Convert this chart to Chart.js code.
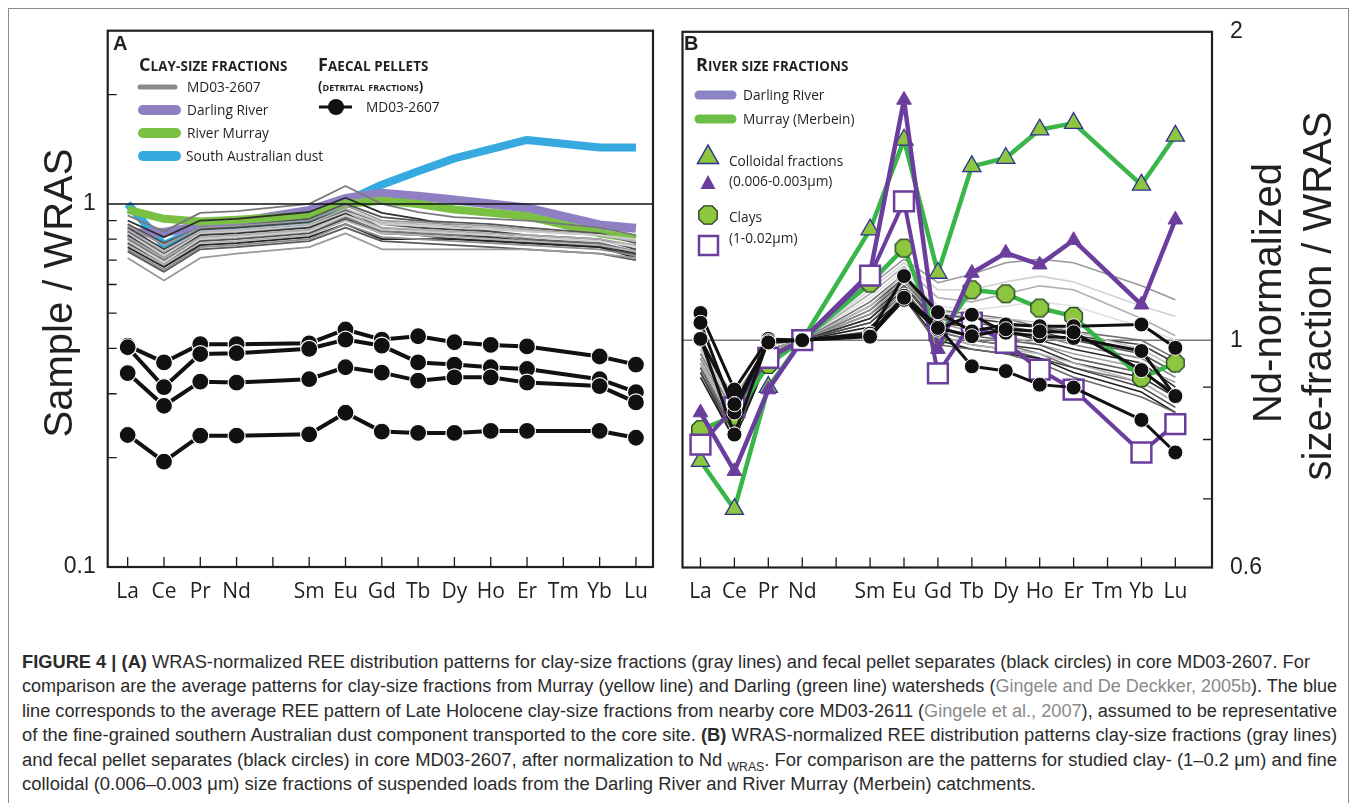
<!DOCTYPE html>
<html><head><meta charset="utf-8">
<script src="https://cdn.jsdelivr.net/npm/chart.js@4.4.1/dist/chart.umd.min.js"></script>
<style>
html,body{margin:0;padding:0;background:#fff;}
#wrap{position:relative;width:1358px;height:803px;overflow:hidden;font-family:"Open Sans",sans-serif;color:#231f20;}
canvas{position:absolute;top:0;}
.t{position:absolute;white-space:nowrap;line-height:20px;height:20px;font-size:13.7px;}
.hd{font-weight:700;font-size:13.4px;letter-spacing:0.1px;}
.hd .c{font-size:18px;}
.hd2{font-weight:700;font-variant:small-caps;font-size:13.3px;}
.pl{font-family:"Liberation Sans",Arial,sans-serif;font-weight:700;font-size:20px;}
.rot{position:absolute;transform:translate(-50%,-50%) rotate(-90deg);white-space:nowrap;line-height:1;font-family:"Liberation Sans",Arial,sans-serif;font-size:40px;color:#231f20;}
.cap{position:absolute;left:22px;height:24px;line-height:24px;white-space:nowrap;font-family:"Liberation Sans",Arial,sans-serif;font-size:18px;color:#2b2b2b;}
.cap span.in{display:inline-block;transform-origin:0 50%;}
.ref{color:#8a8a8a;}
#frame{position:absolute;left:8px;top:8px;width:1341px;height:805px;border:1px solid #8c8c8c;box-sizing:border-box;}
svg#lg{position:absolute;left:0;top:0;pointer-events:none;}
</style></head><body>
<div id="wrap">
<div id="frame"></div>
<canvas id="cA" width="666" height="620" style="left:0px"></canvas>
<canvas id="cB" width="692" height="620" style="left:666px"></canvas>

<svg id="lg" width="1358" height="640">
  <line x1="140" y1="87" x2="175" y2="87" stroke="#8a8a8a" stroke-width="5" stroke-linecap="round"/>
  <line x1="143" y1="110" x2="176" y2="110" stroke="#8f80c4" stroke-width="10" stroke-linecap="round"/>
  <line x1="143" y1="133" x2="176" y2="133" stroke="#7ac143" stroke-width="10" stroke-linecap="round"/>
  <line x1="143" y1="156" x2="176" y2="156" stroke="#36a9e1" stroke-width="10" stroke-linecap="round"/>
  <line x1="319" y1="107" x2="352" y2="107" stroke="#111" stroke-width="3"/>
  <circle cx="336" cy="107" r="8" fill="#111"/>
  <line x1="699" y1="95" x2="732" y2="95" stroke="#8b84c4" stroke-width="9" stroke-linecap="round"/>
  <line x1="699" y1="119" x2="732" y2="119" stroke="#6cbf45" stroke-width="9" stroke-linecap="round"/>
  <polygon points="708,145 697.5,163.5 718.5,163.5" fill="#8dc63f" stroke="#2e3192" stroke-width="1.5"/>
  <polygon points="708,175 700.5,189 715.5,189" fill="#6b3e9e"/>
  <polygon points="712,205.8 717.2,211 717.2,219 712,224.2 704,224.2 698.8,219 698.8,211 704,205.8" fill="#8dc63f" stroke="#2a3a1a" stroke-width="1.3"/>
  <rect x="699" y="236" width="19" height="19" fill="#fff" stroke="#6b3e9e" stroke-width="2.5"/>
</svg>

<div class="t pl" style="left:113px;top:33px;">A</div>
<div class="t hd" style="left:139px;top:54px;"><span class="c">C</span>LAY-SIZE FRACTIONS</div>
<div class="t" style="left:187px;top:77px;">MD03-2607</div>
<div class="t" style="left:187px;top:100px;">Darling River</div>
<div class="t" style="left:187px;top:123px;">River Murray</div>
<div class="t" style="left:186px;top:146px;">South Australian dust</div>
<div class="t hd" style="left:318px;top:54px;"><span class="c">F</span>AECAL PELLETS</div>
<div class="t hd2" style="left:318px;top:76px;">(detrital fractions)</div>
<div class="t" style="left:366px;top:97px;">MD03-2607</div>

<div class="t pl" style="left:684px;top:33px;">B</div>
<div class="t hd" style="left:696px;top:54px;"><span class="c">R</span>IVER SIZE FRACTIONS</div>
<div class="t" style="left:743px;top:85px;">Darling River</div>
<div class="t" style="left:743px;top:109px;">Murray (Merbein)</div>
<div class="t" style="left:729px;top:151px;">Colloidal fractions</div>
<div class="t" style="left:729px;top:171px;">(0.006-0.003μm)</div>
<div class="t" style="left:729px;top:207px;">Clays</div>
<div class="t" style="left:729px;top:228px;">(1-0.02μm)</div>

<div class="rot" style="left:58px;top:293px;">Sample / WRAS</div>
<div class="rot" style="left:1267px;top:293px;">Nd-normalized</div>
<div class="rot" style="left:1317px;top:296px;">size-fraction / WRAS</div>

<div class="cap" style="top:650px" data-w="1288"><span class="in"><b>FIGURE 4 | (A)</b> WRAS-normalized REE distribution patterns for clay-size fractions (gray lines) and fecal pellet separates (black circles) in core MD03-2607. For</span></div>
<div class="cap" style="top:674px" data-w="1315"><span class="in">comparison are the average patterns for clay-size fractions from Murray (yellow line) and Darling (green line) watersheds (<span class="ref">Gingele and De Deckker, 2005b</span>). The blue</span></div>
<div class="cap" style="top:699px" data-w="1315"><span class="in">line corresponds to the average REE pattern of Late Holocene clay-size fractions from nearby core MD03-2611 (<span class="ref">Gingele et al., 2007</span>), assumed to be representative</span></div>
<div class="cap" style="top:723px" data-w="1315"><span class="in">of the fine-grained southern Australian dust component transported to the core site. <b>(B)</b> WRAS-normalized REE distribution patterns clay-size fractions (gray lines)</span></div>
<div class="cap" style="top:748px" data-w="1315"><span class="in">and fecal pellet separates (black circles) in core MD03-2607, after normalization to Nd <sub style="font-size:12px">WRAS</sub>. For comparison are the patterns for studied clay- (1–0.2 μm) and fine</span></div>
<div class="cap" style="top:772px" data-w="0"><span class="in">colloidal (0.006–0.003 μm) size fractions of suspended loads from the Darling River and River Murray (Merbein) catchments.</span></div>
</div>

<script>
// ---------- categories ----------
const ELEMENT_LABELS = ['La','Ce','Pr','Nd','','Sm','Eu','Gd','Tb','Dy','Ho','Er','Tm','Yb','Lu'];
const ELEMENTS = ['La','Ce','Pr','Nd','Sm','Eu','Gd','Tb','Dy','Ho','Er','Tm','Yb','Lu'];
const ELEMENT_POS = [0,1,2,3,5,6,7,8,9,10,11,12,13,14];
const A_TICK_LABELS = [0.1, 1];
const A_MINOR_TICKS = [0.2,0.3,0.4,0.5,0.6,0.7,0.8,0.9,2];
const B_TICK_LABELS = [0.6, 1, 2];
const B_MINOR_TICKS = [0.7,0.8,0.9];

// ---------- Panel A (sample / WRAS) ----------
//              La    Ce    Pr    Nd    Sm    Eu    Gd    Tb    Dy    Ho    Er    Tm    Yb    Lu
const dustA    = [1.00, 0.77, 0.86, 0.87, 0.89, 1.015,1.13, 1.23, 1.335,null, 1.50, null, 1.43, 1.43];
const darlingA = [0.83, 0.835,0.87, 0.89, 0.96, 1.035,1.07, 1.05, 1.025,1.00, 0.975,null, 0.875,0.857];
const murrayA  = [0.965,0.91, 0.895,0.905,0.93, 1.00, 1.02, 1.00, 0.965,0.945,0.925,null, 0.83, 0.80];
const clayA = [
  [0.93,0.84,0.945,0.955,1.00,1.12,1.00,0.95,0.92,0.91,0.90,null,0.86,0.82],
  [0.90,0.81,0.90,0.91,0.95,1.04,0.945,0.91,0.87,0.84,0.80,null,0.77,0.72],
  [0.88,0.78,0.86,0.87,0.91,1.00,0.92,0.90,0.89,0.88,0.86,null,0.83,0.78],
  [0.87,0.77,0.86,0.87,0.90,0.99,0.90,0.89,0.88,0.87,0.85,null,0.82,0.79],
  [0.86,0.75,0.85,0.86,0.89,0.97,0.88,0.86,0.85,0.84,0.82,null,0.80,0.75],
  [0.85,0.74,0.84,0.85,0.88,0.97,0.89,0.88,0.87,0.86,0.84,null,0.82,0.79],
  [0.84,0.73,0.83,0.84,0.87,0.96,0.86,0.84,0.83,0.82,0.80,null,0.78,0.74],
  [0.83,0.72,0.83,0.84,0.87,0.95,0.88,0.87,0.86,0.85,0.84,null,0.82,0.80],
  [0.82,0.71,0.82,0.83,0.86,0.94,0.85,0.83,0.82,0.81,0.79,null,0.77,0.73],
  [0.81,0.71,0.81,0.82,0.85,0.93,0.86,0.85,0.84,0.83,0.82,null,0.80,0.77],
  [0.80,0.70,0.80,0.81,0.84,0.92,0.84,0.83,0.82,0.80,0.79,null,0.77,0.74],
  [0.79,0.69,0.80,0.81,0.84,0.93,0.85,0.84,0.83,0.82,0.81,null,0.79,0.76],
  [0.78,0.68,0.79,0.80,0.83,0.91,0.83,0.82,0.80,0.79,0.78,null,0.76,0.72],
  [0.77,0.68,0.78,0.79,0.82,0.90,0.83,0.82,0.81,0.80,0.79,null,0.77,0.74],
  [0.76,0.67,0.77,0.78,0.81,0.88,0.80,0.80,0.80,0.79,0.78,null,0.76,0.71],
  [0.75,0.66,0.76,0.77,0.80,0.88,0.81,0.80,0.79,0.78,0.77,null,0.75,0.72],
  [0.74,0.65,0.75,0.76,0.79,0.86,0.79,0.78,0.77,0.76,0.75,null,0.73,0.70],
  [0.71,0.615,0.71,0.73,0.76,0.83,0.75,0.75,0.75,0.75,0.75,null,0.73,0.71]
];
const clayAColors = ['#7a7a7a','#2f2f2f','#555555','#999999','#444444','#bbbbbb','#666666','#cccccc','#333333','#aaaaaa','#777777','#d0d0d0','#505050','#b5b5b5','#222222','#8c8c8c','#5a5a5a','#9a9a9a'];
const pelletsA = [
  [0.407,0.366,0.411,0.411,0.413,0.451,0.423,0.432,0.416,0.409,0.405,null,0.380,0.361],
  [0.403,0.313,0.386,0.388,0.399,0.423,0.407,0.366,0.361,0.355,0.351,null,0.329,0.303],
  [0.342,0.278,0.324,0.322,0.329,0.355,0.343,0.326,0.333,0.333,0.322,null,0.315,0.284],
  [0.231,0.195,0.230,0.230,0.232,0.266,0.236,0.234,0.234,0.237,0.237,null,0.237,0.227]
];

// ---------- Panel B (Nd-normalized size-fraction / WRAS) ----------
//                      La    Ce    Pr    Nd   Sm    Eu    Gd    Tb    Dy    Ho    Er    Tm    Yb    Lu
const murrayColloidB  = [0.762,0.684,0.90, 1.0, 1.282,1.569,1.163,1.478,1.506,1.605,1.629,null, 1.418,1.583];
const darlingColloidB = [0.85, 0.745,0.895,1.0, 1.163,1.716,0.98, 1.163,1.217,1.185,1.252,null, 1.083,1.311];
const murrayClayB     = [0.818,0.843,0.947,1.0, 1.137,1.23, 1.008,1.12, 1.11, 1.075,1.055,null, 0.919,0.95];
const darlingClayB    = [0.791,0.86, 0.961,1.0, 1.156,1.366,0.928,1.04, 0.994,0.936,0.895,null, 0.777,0.828];
const pelletsB = [
  [1.003,0.809,1.000,1.0,1.013,1.105,1.032,0.943,0.933,0.905,0.899,null,0.836,0.777],
  [1.063,0.895,1.003,1.0,1.015,1.155,1.065,1.020,1.036,1.032,1.032,null,1.036,0.983],
  [1.040,0.850,0.998,1.0,1.010,1.095,1.024,1.059,1.017,1.009,1.005,null,0.976,0.882],
  [1.003,0.866,0.995,1.0,1.008,1.100,1.028,1.009,1.025,1.020,1.018,null,0.935,0.882]
];
const clayB = [
  [0.99,0.88,0.99,1,1.13,1.20,1.138,1.16,1.19,1.20,1.19,null,1.13,1.095],
  [0.98,0.87,0.99,1,1.12,1.19,1.12,1.12,1.14,1.155,1.14,null,1.08,1.055],
  [0.99,0.86,0.98,1,1.11,1.18,1.10,1.09,1.11,1.13,1.12,null,1.05,1.01],
  [0.98,0.87,0.99,1,1.10,1.17,1.08,1.07,1.08,1.09,1.08,null,1.03,1.00],
  [0.97,0.85,0.98,1,1.09,1.16,1.07,1.06,1.05,1.03,1.02,null,1.00,0.96],
  [0.96,0.84,0.98,1,1.08,1.15,1.06,1.05,1.04,1.03,1.01,null,0.99,0.95],
  [0.98,0.86,0.99,1,1.08,1.16,1.07,1.05,1.05,1.04,1.02,null,0.98,0.94],
  [0.95,0.83,0.97,1,1.07,1.14,1.05,1.04,1.03,1.02,1.00,null,0.97,0.93],
  [0.97,0.85,0.98,1,1.07,1.15,1.05,1.03,1.02,1.01,0.99,null,0.96,0.92],
  [0.94,0.82,0.97,1,1.06,1.13,1.04,1.03,1.02,1.00,0.98,null,0.95,0.90],
  [0.96,0.84,0.98,1,1.06,1.14,1.04,1.02,1.01,0.99,0.97,null,0.94,0.91],
  [0.95,0.83,0.97,1,1.05,1.13,1.03,1.01,1.00,0.99,0.96,null,0.93,0.89],
  [0.93,0.81,0.96,1,1.05,1.12,1.02,1.00,0.99,0.98,0.95,null,0.92,0.88],
  [0.94,0.82,0.97,1,1.04,1.12,1.02,1.00,0.99,0.97,0.94,null,0.91,0.87],
  [0.93,0.80,0.96,1,1.04,1.11,1.01,0.99,0.98,0.96,0.94,null,0.90,0.86],
  [0.95,0.83,0.97,1,1.03,1.11,1.01,0.99,0.98,0.97,0.95,null,0.91,0.87],
  [0.92,0.80,0.96,1,1.03,1.10,1.00,0.98,0.97,0.96,0.93,null,0.89,0.85],
  [0.94,0.81,0.97,1,1.02,1.10,0.99,0.98,0.97,0.95,0.92,null,0.88,0.85]
];
const clayBColors = ['#9a9a9a','#d2d2d2','#b0b0b0','#e0e0e0','#707070','#404040','#c0c0c0','#555555','#888888','#2a2a2a','#a0a0a0','#606060','#333333','#7a7a7a','#4a4a4a','#b8b8b8','#1e1e1e','#686868'];

// ---------- helpers ----------
function pts(vals){ return vals.map((v,i)=>({x:ELEMENT_POS[i], y:v})); }
function line(vals, color, width, extra){
  return Object.assign({data:pts(vals), borderColor:color, borderWidth:width, pointRadius:0, tension:0,
    spanGaps:true, fill:false, borderJoinStyle:'round', borderCapStyle:'butt'}, extra||{});
}
function octagon(r, fill, stroke){
  const c=document.createElement('canvas'); const s=Math.ceil(2*r+4); c.width=c.height=s;
  const g=c.getContext('2d'); g.beginPath();
  for(let k=0;k<8;k++){const a=Math.PI/8+k*Math.PI/4; const px=s/2+r*Math.cos(a), py=s/2+r*Math.sin(a); if(k) g.lineTo(px,py); else g.moveTo(px,py);}
  g.closePath(); g.fillStyle=fill; g.fill(); g.lineWidth=1.3; g.strokeStyle=stroke; g.stroke(); return c;
}

const framePlugin = {
  id:'frame',
  beforeDatasetsDraw(chart, args, o){ if(o.refBelow) drawRef(chart,o); },
  afterDatasetsDraw(chart, args, o){
    if(!o.refBelow) drawRef(chart,o);
    const {ctx, chartArea:ca} = chart; const x=chart.scales.x, y=chart.scales.y;
    ctx.save(); ctx.strokeStyle='#1a1a1a'; ctx.lineWidth=1.3; ctx.beginPath();
    ELEMENT_LABELS.forEach((_,i)=>{ const px=x.getPixelForValue(i); ctx.moveTo(px,ca.bottom); ctx.lineTo(px,ca.bottom-o.xTick); });
    o.minor.forEach(v=>{ const py=y.getPixelForValue(v);
      if(o.side==='left'){ ctx.moveTo(ca.left,py); ctx.lineTo(ca.left+o.yTick,py); }
      else { ctx.moveTo(ca.right,py); ctx.lineTo(ca.right-o.yTick,py); } });
    ctx.stroke();
    ctx.lineWidth=2.2; ctx.strokeStyle='#231f20';
    ctx.strokeRect(ca.left, ca.top, ca.right-ca.left, ca.bottom-ca.top);
    ctx.restore();
  }
};
function drawRef(chart,o){
  const {ctx, chartArea:ca} = chart; const py = chart.scales.y.getPixelForValue(1);
  ctx.save(); ctx.strokeStyle=o.refColor; ctx.lineWidth=o.refWidth; ctx.beginPath();
  ctx.moveTo(ca.left,py); ctx.lineTo(ca.right,py); ctx.stroke(); ctx.restore();
}

function xScale(min,max,h){
  return {type:'linear', min:min, max:max,
    afterBuildTicks:s=>{ s.ticks = ELEMENT_LABELS.map((_,i)=>({value:i})); },
    afterFit:s=>{ s.height=h; },
    grid:{display:false, drawTicks:false}, border:{display:false},
    ticks:{autoSkip:false, maxRotation:0, minRotation:0, padding:12, color:'#231f20',
      font:{family:'Open Sans', size:21}, callback:(v,i)=>ELEMENT_LABELS[i]}};
}
function yScale(min,max,labels,pos,w,pad){
  return {type:'logarithmic', position:pos, min:min, max:max,
    afterBuildTicks:s=>{ s.ticks = labels.map(v=>({value:v})); },
    afterFit:s=>{ s.width=w; },
    grid:{display:false, drawTicks:false}, border:{display:false},
    ticks:{padding:pad, color:'#231f20', font:{family:'Liberation Sans', size:23}, callback:v=>String(v)}};
}

// ---------- Chart A ----------
const dsA = [];
dsA.push(line(dustA,'#36a9e1',8));
dsA.push(line(darlingA,'#8f80c4',9));
dsA.push(line(murrayA,'#7ac143',8));
clayA.forEach((arr,i)=>dsA.push(line(arr, clayAColors[i], 1.8)));
pelletsA.forEach(arr=>dsA.push(line(arr,'#111111',4,{pointRadius:8.5, pointBackgroundColor:'#111111', pointBorderColor:'#ffffff', pointBorderWidth:1.2})));
dsA.reverse();

new Chart(document.getElementById('cA'), {
  type:'line',
  data:{datasets:dsA},
  options:{responsive:false, devicePixelRatio:1, animation:false, events:[],
    layout:{padding:{left:0, top:30.7, right:13, bottom:0}},
    plugins:{legend:{display:false}, tooltip:{enabled:false},
      frame:{side:'left', minor:A_MINOR_TICKS, xTick:10, yTick:9, refColor:'#111', refWidth:1.4, refBelow:false}},
    scales:{x:xScale(-0.55,14.47,53), y:yScale(0.1,3,A_TICK_LABELS,'left',107.7,12)}
  },
  plugins:[framePlugin]
});

// ---------- Chart B ----------
const oct = octagon(9.5,'#8dc63f','#1f3d1f');
const dsB = [];
clayB.forEach((arr,i)=>dsB.push(line(arr, clayBColors[i], 1.6)));
dsB.push(line(murrayColloidB,'#3ab54a',4.5,{pointStyle:'triangle', pointRadius:10.5, pointBackgroundColor:'#8dc63f', pointBorderColor:'#2e3192', pointBorderWidth:1.3}));
dsB.push(line(murrayClayB,'#3ab54a',4.5,{pointStyle:oct, pointRadius:10}));
dsB.push(line(darlingColloidB,'#6b3e9e',4.5,{pointStyle:'triangle', pointRadius:8.5, pointBackgroundColor:'#6b3e9e', pointBorderColor:'#6b3e9e', pointBorderWidth:1}));
dsB.push(line(darlingClayB,'#6b3e9e',4,{pointStyle:'rect', pointRadius:14, pointBackgroundColor:'#ffffff', pointBorderColor:'#6b3e9e', pointBorderWidth:2.5}));
pelletsB.forEach(arr=>dsB.push(line(arr,'#111111',3,{pointRadius:7.5, pointBackgroundColor:'#111111', pointBorderColor:'#ffffff', pointBorderWidth:1})));
dsB.reverse();

new Chart(document.getElementById('cB'), {
  type:'line',
  data:{datasets:dsB},
  options:{responsive:false, devicePixelRatio:1, animation:false, events:[],
    layout:{padding:{left:12, top:31, right:0, bottom:0}},
    plugins:{legend:{display:false}, tooltip:{enabled:false},
      frame:{side:'right', minor:B_MINOR_TICKS, xTick:10, yTick:9, refColor:'#777', refWidth:1.4, refBelow:true}},
    scales:{x:xScale(-0.53,15.08,52.5), y:yScale(0.6,2,B_TICK_LABELS,'right',146,18)}
  },
  plugins:[framePlugin]
});

// ---------- caption fit ----------
(function(){
  const caps=[...document.querySelectorAll('.cap')]; let last=1;
  caps.forEach(c=>{ const sp=c.querySelector('span.in'); const w=sp.getBoundingClientRect().width; let t=+c.dataset.w;
    const k = t>0 ? t/w : last; if(t>0) last=k; sp.style.transform='scaleX('+k+')'; });
})();
</script>
</body></html>
